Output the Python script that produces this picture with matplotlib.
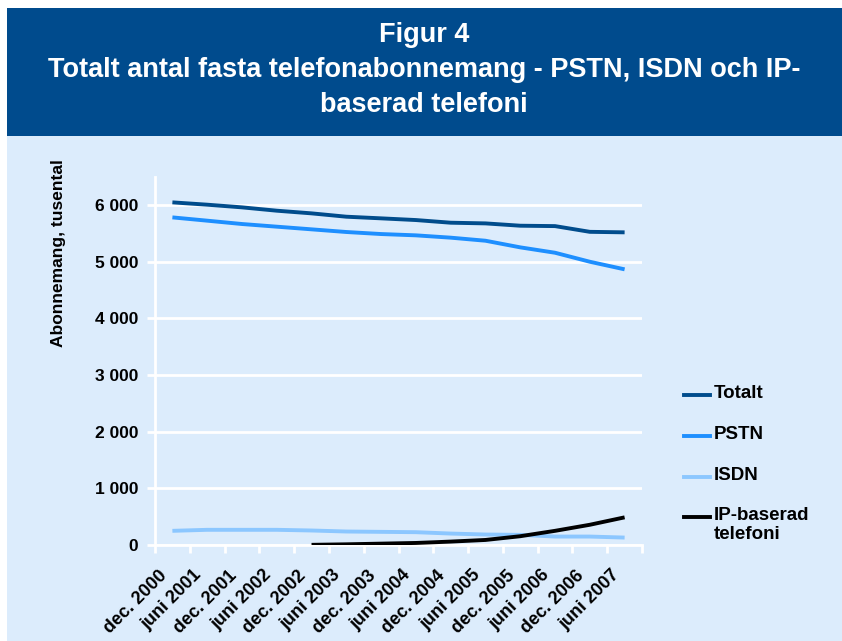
import matplotlib
matplotlib.use("Agg")
import matplotlib.pyplot as plt
from matplotlib.patches import Rectangle
from matplotlib.lines import Line2D
from matplotlib.transforms import ScaledTranslation
import numpy as np

categories = ["dec. 2000", "juni 2001", "dec. 2001", "juni 2002", "dec. 2002",
              "juni 2003", "dec. 2003", "juni 2004", "dec. 2004", "juni 2005",
              "dec. 2005", "juni 2006", "dec. 2006", "juni 2007"]
totalt = [6047, 6006, 5959, 5900, 5853, 5794, 5765, 5735, 5688, 5676, 5635, 5628, 5527, 5518]
pstn = [5782, 5724, 5665, 5618, 5571, 5524, 5488, 5465, 5424, 5370, 5253, 5158, 4999, 4865]
isdn = [250, 268, 268, 268, 256, 238, 232, 226, 202, 185, 179, 149, 149, 131]
ip = [np.nan, np.nan, np.nan, np.nan, 3, 12, 24, 36, 60, 89, 155, 250, 357, 488]

series_names = ["Totalt", "PSTN", "ISDN", "IP-baserad\ntelefoni"]
series_values = [totalt, pstn, isdn, ip]
series_colors = ["#004C8C", "#1E8FFF", "#8CC7FF", "#000000"]

y_ticks = [0, 1000, 2000, 3000, 4000, 5000, 6000]
y_tick_labels = ["0", "1 000", "2 000", "3 000", "4 000", "5 000", "6 000"]

title_lines = ["Figur 4", "Totalt antal fasta telefonabonnemang - PSTN, ISDN och IP-", "baserad telefoni"]
ylabel = "Abonnemang, tusental"

FONT = "Liberation Sans"
W, H = 842, 641
fig = plt.figure(figsize=(W / 100, H / 100), dpi=100)
fig.patch.set_facecolor("white")

def fx(px):
    return px / W

def fy(py):
    return 1 - py / H

# background panels
fig.add_artist(Rectangle((fx(7), fy(641)), fx(835), (641 - 136) / H,
                         transform=fig.transFigure, facecolor="#DCECFC", edgecolor="none", zorder=0))
fig.add_artist(Rectangle((fx(7), fy(136)), fx(835), (136 - 8) / H,
                         transform=fig.transFigure, facecolor="#004B8D", edgecolor="none", zorder=0))

title_y = [35, 70, 105]
for t, yy in zip(title_lines, title_y):
    fig.text(0.5 + fx(3), fy(yy), t, ha="center", va="center", color="white",
             fontsize=19.5, fontweight="bold", family=FONT)

ax = fig.add_axes([fx(155), fy(545), fx(642 - 155), (545 - 176.7) / H])
ax.set_facecolor("none")
x = np.arange(len(categories))
lines = []
for vals, c in zip(series_values, series_colors):
    ln, = ax.plot(x, vals, color=c, lw=2.8, solid_capstyle="butt", zorder=3)
    lines.append(ln)

ax.set_xlim(-0.5, len(categories) - 0.5)
ax.set_ylim(0, 6500)
ax.set_yticks(y_ticks)
ax.set_yticklabels(y_tick_labels, fontsize=12.5, fontweight="bold", family=FONT)
ax.yaxis.grid(True, color="white", lw=2)
ax.set_axisbelow(True)
for s in ["top", "right"]:
    ax.spines[s].set_visible(False)
for s in ["left", "bottom"]:
    ax.spines[s].set_color("white")
    ax.spines[s].set_linewidth(2)
ax.tick_params(axis="y", colors="white", length=6, width=2, pad=6, labelcolor="black")
ax.set_xticks(np.arange(-0.5, len(categories), 1.0))
ax.set_xticklabels([])
ax.tick_params(axis="x", colors="white", length=6, width=2)
ax.set_xticks(x, minor=True)
ax.set_xticklabels(categories, minor=True, rotation=45, ha="right", va="center",
                   rotation_mode="anchor", fontsize=13, fontweight="bold", family=FONT)
ax.tick_params(axis="x", which="minor", length=0, pad=20, labelcolor="black")
for lab in ax.get_xticklabels(minor=True):
    lab.set_transform(lab.get_transform() + ScaledTranslation(-8 / 100, 0, fig.dpi_scale_trans))

fig.text(fx(59), fy(253), ylabel, rotation=90, ha="center", va="center",
         fontsize=12.5, fontweight="bold", family=FONT)

# legend
leg_y = [395, 436, 477, 517]
for name, c, yy in zip(series_names, series_colors, leg_y):
    fig.add_artist(Line2D([fx(684), fx(710)], [fy(yy), fy(yy)], transform=fig.transFigure,
                          color=c, lw=2.8))
    fig.text(fx(714), fy(yy - 10), name, ha="left", va="top", fontsize=13.5,
             fontweight="bold", family=FONT, linespacing=1.15)

fig.savefig("out.png", dpi=100, facecolor=fig.get_facecolor())
